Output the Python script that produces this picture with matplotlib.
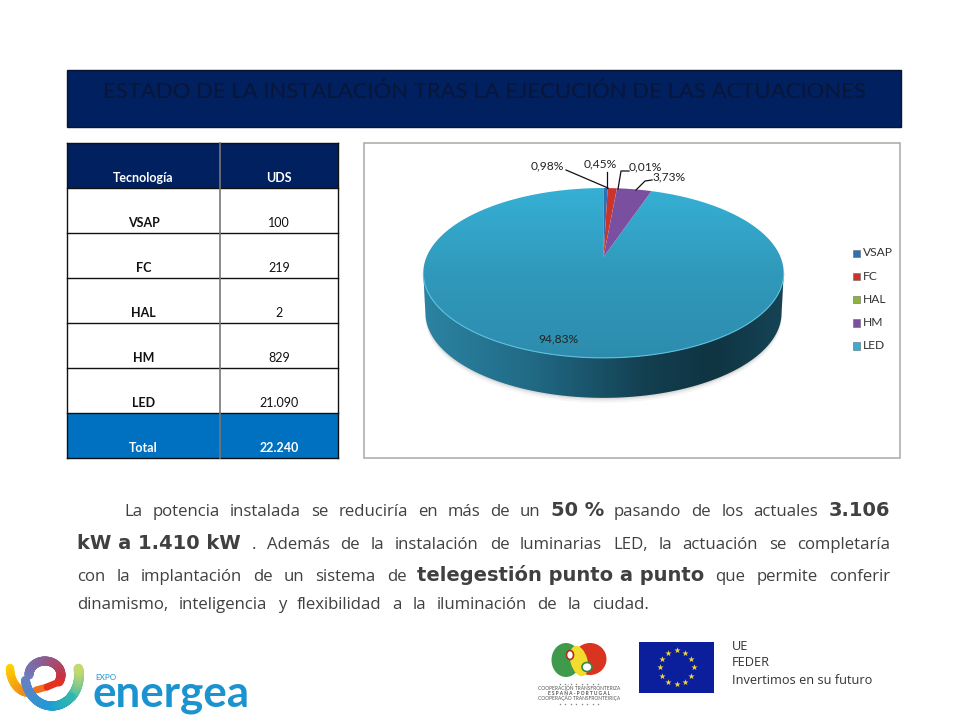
import numpy as np
import matplotlib
matplotlib.use('Agg')
import matplotlib.pyplot as plt
from matplotlib.colors import LinearSegmentedColormap, to_rgb
from matplotlib.patches import Rectangle, Polygon, Ellipse

# datos
tecnologias = ['VSAP', 'FC', 'HAL', 'HM', 'LED']
uds = [100, 219, 2, 829, 21090]
uds_txt = ['100', '219', '2', '829', '21.090']
total_txt = '22.240'
colores = ['#2f6fb5', '#c8352d', '#8db33b', '#7b4fa0', '#35aed2']
pct_txt = ['0,45%', '0,98%', '0,01%', '3,73%', '94,83%']

TITULO = 'ESTADO DE LA INSTALACIÓN TRAS LA EJECUCIÓN DE LAS ACTUACIONES'
parrafo = [
    (124, 890, 516, [('La potencia instalada se reduciría en más de un', 0), ('50 %', 1),
                     ('pasando de los actuales', 0), ('3.106', 1)]),
    (77, 890, 549, [('kW a 1.410 kW', 1), ('. Además de la instalación de luminarias LED, la actuación se completaría', 0)]),
    (77, 890, 581, [('con la implantación de un sistema de', 0), ('telegestión punto a punto', 1),
                    ('que permite conferir', 0)]),
    (77, 649, 609, [('dinamismo, inteligencia y flexibilidad a la iluminación de la ciudad.', 0)]),
]

plt.rcParams['font.family'] = ['Lato', 'DejaVu Sans']

fig = plt.figure(figsize=(9.6, 7.2), dpi=100)
ax = fig.add_axes([0, 0, 1, 1])
ax.axis('off')
XL, YL = (0, 960), (720, 0)
ax.set_xlim(XL)
ax.set_ylim(YL)


def px(s):
    return s * 0.72


def caja(x0, y0, x1, y1, **kw):
    ax.add_patch(Rectangle((x0, y0), x1 - x0, y1 - y0, **kw))


# titulo
caja(67, 70, 901, 127, fc='#002060', ec='#0a1430', lw=1)
ax.text(484, 91.5, TITULO, fontsize=px(22.2), color='#0a1638', ha='center', va='center')

# tabla
col_x = [67, 220, 338]
fila_y = 143
alto = 45
filas = [('Tecnología', 'UDS')] + list(zip(tecnologias, uds_txt)) + [('Total', total_txt)]
for i, (a, b) in enumerate(filas):
    y0 = fila_y + i * alto
    fondo = '#002060' if i == 0 else ('#0070c0' if i == len(filas) - 1 else 'white')
    color = 'white' if fondo != 'white' else '#111111'
    caja(col_x[0], y0, col_x[2], y0 + alto, fc=fondo, ec='none')
    ax.plot([col_x[0], col_x[2]], [y0 + alto, y0 + alto], color='#111111', lw=1)
    ax.text((col_x[0] + col_x[1]) / 2, y0 + alto - 10, a, fontsize=px(12.5), color=color,
            weight='bold', ha='center', va='center')
    ax.text((col_x[1] + col_x[2]) / 2, y0 + alto - 10, b, fontsize=px(12.5), color=color,
            weight='bold' if i in (0, len(filas) - 1) else 'normal', ha='center', va='center')
y_fin = fila_y + len(filas) * alto
ax.plot([col_x[0], col_x[2]], [fila_y, fila_y], color='#111111', lw=1)
ax.plot([col_x[0], col_x[0]], [fila_y, y_fin], color='#111111', lw=1)
ax.plot([col_x[2], col_x[2]], [fila_y, y_fin], color='#111111', lw=1)
ax.plot([col_x[1], col_x[1]], [fila_y, y_fin], color='#777777', lw=1.2)

# marco del grafico
caja(363.5, 142.5, 899.5, 457.5, fc='white', ec='#a8a8a8', lw=1.1)

# tarta: sale de ax.pie y se proyecta en perspectiva
CX, APEX, S = 603.5, 257.0, 177.0
R_, P_ = 0.188, -33.6
HONDO = 40


def proyecta(v):
    x, y = v[:, 0], v[:, 1]
    d = 1 + R_ * y
    return np.column_stack([CX + S * x / d, (APEX + P_ * y) / d])


aux = fig.add_axes([0, 0, 0.1, 0.1])
wedges, _ = aux.pie(uds, startangle=90, counterclock=False, radius=1)
polis = []
for w in wedges:
    ruta = w.get_patch_transform().transform_path(w.get_path())
    trozos_w = [curva(np.linspace(0, 1, 20)) for curva, cod in ruta.iter_bezier()]
    polis.append(proyecta(np.vstack(trozos_w)))
aux.remove()

t = np.linspace(0, 2 * np.pi, 361)
borde = proyecta(np.column_stack([np.cos(t), np.sin(t)]))
i_izq, i_der = borde[:, 0].argmin(), borde[:, 0].argmax()
frente = borde[min(i_izq, i_der):max(i_izq, i_der) + 1]
if frente[:, 1].mean() < APEX:
    frente = np.vstack([borde[max(i_izq, i_der):], borde[1:min(i_izq, i_der) + 1]])
fondo_l = frente.copy()
fondo_l[:, 0] = CX + (fondo_l[:, 0] - CX) * 0.988
fondo_l[:, 1] += HONDO

# sombra suave bajo la tarta
for k, a in zip([5, 3, 1.5], [0.05, 0.07, 0.1]):
    ax.add_patch(Polygon(np.vstack([frente, (fondo_l + [0, k])[::-1]]), fc='#555555', ec='none', alpha=a))

x0, x1 = borde[:, 0].min(), borde[:, 0].max()
cm_lado = LinearSegmentedColormap.from_list('lado', [(0, '#2b84a2'), (0.3, '#216a86'), (0.62, '#133f50'),
                                                     (0.8, '#0f3442'), (1, '#164455')])
img = ax.imshow(np.linspace(0, 1, 256)[None, :], extent=(x0, x1, 400, 270), cmap=cm_lado, aspect='auto', zorder=2)
lado = Polygon(np.vstack([frente, fondo_l[::-1]]), transform=ax.transData, fc='none', ec='none')
ax.add_patch(lado)
img.set_clip_path(lado)

cm_sup = LinearSegmentedColormap.from_list('sup', ['#36b0d5', '#3099bb', '#2d8cae'])
img2 = ax.imshow(np.linspace(0, 1, 256)[:, None], extent=(x0, x1, 360, 187), cmap=cm_sup, aspect='auto',
                 origin='upper', zorder=3)
tapa = Polygon(polis[4], transform=ax.transData, fc='none', ec='none')
ax.add_patch(tapa)
img2.set_clip_path(tapa)
ax.plot(frente[:, 0], frente[:, 1], color='#5cc0dd', lw=0.8, zorder=4)
for p, c in zip(polis[:4], colores[:4]):
    ax.add_patch(Polygon(p, fc=c, ec='none', zorder=4))
ax.set_xlim(XL)
ax.set_ylim(YL)

# etiquetas
etiquetas = [(547, 166), (600, 164), (645, 167), (669, 177), (558, 339)]
orden = [1, 0, 2, 3, 4]
for (ex, ey), j in zip(etiquetas, orden):
    ax.text(ex, ey, pct_txt[j], fontsize=px(12), color='#222222', ha='center', va='center', zorder=6)
guias = [[(566, 170), (608, 188)], [(607, 172), (607, 188)], [(629, 171), (621, 171), (618, 189)],
         [(652, 180), (645, 181), (636, 190)]]
for g in guias:
    g = np.array(g)
    ax.plot(g[:, 0], g[:, 1], color='#111111', lw=0.9, zorder=6)

# leyenda
for i, (n, c) in enumerate(zip(tecnologias, colores)):
    y = 253 + i * 23.2
    caja(852.5, y - 3.5, 860, y + 4, fc=c, ec='#666666', lw=0.4, zorder=5)
    ax.text(862.5, y, n, fontsize=px(12), color='#333333', ha='left', va='center', zorder=6)

# parrafo justificado
rend = fig.canvas.get_renderer()
F_NORMAL = dict(fontsize=px(16.8), color='#404040', family=['Open Sans', 'DejaVu Sans'])
F_NEGRITA = dict(fontsize=px(19.5), color='#404040', family=['DejaVu Sans'], weight='bold')
for xa, xb, yb, trozos in parrafo:
    palabras = []
    for texto, neg in trozos:
        # la negrita va entera, el resto palabra a palabra
        palabras += [(texto, 1)] if neg else [(w, 0) for w in texto.split(' ')]
    arts = []
    for w, neg in palabras:
        arts.append(ax.text(xa, yb, w, va='baseline', ha='left', **(F_NEGRITA if neg else F_NORMAL)))
    anchos = [a.get_window_extent(rend).width for a in arts]
    hueco = (xb - xa - sum(anchos)) / (len(arts) - 1)
    x = xa
    for a, an in zip(arts, anchos):
        a.set_x(x)
        x += an + hueco

# logo cooperacion
ax.add_patch(Ellipse((566, 660), 29, 34, fc='#3f9a4c', ec='none', zorder=2))
ax.add_patch(Ellipse((590, 659), 33, 32, fc='#d9341f', ec='none', zorder=2))
ax.add_patch(Ellipse((579, 661), 17, 31, angle=-15, fc='#f2dc2e', ec='none', zorder=3))
ax.add_patch(Ellipse((570, 655), 7, 9, fc='white', ec='#b03020', lw=1.2, zorder=4))
ax.add_patch(Ellipse((587, 667), 10, 9, fc='white', ec='#2f8a44', lw=1.2, zorder=4))
for y, s, neg in [(688.5, 'COOPERACIÓN TRANSFRONTERIZA', False), (693.5, 'E S P A Ñ A - P O R T U G A L', True),
                  (698.5, 'COOPERAÇÃO TRANSFRONTEIRIÇA', False)]:
    ax.text(579, y, s, fontsize=px(4.9), color='#555555', ha='center', va='center', weight='bold' if neg else 'normal')
for y in (683.5, 704):
    ax.scatter(np.linspace(560, 598, 8), np.full(8, y), s=1.2, color='#888888', linewidths=0)

# bandera UE
caja(639, 642, 714, 693, fc='#0b1f9c', ec='none')
ang = np.arange(12) * np.pi / 6
ax.scatter(676.7 + 17 * np.cos(ang), 667.3 + 17 * np.sin(ang), marker='*', s=22, color='#f4d63a', linewidths=0, zorder=3)

for y, s in [(646, 'UE'), (663, 'FEDER'), (681, 'Invertimos en su futuro')]:
    ax.text(732, y, s, fontsize=px(12.8), color='#333333', ha='left', va='center', family=['Open Sans', 'DejaVu Sans'])


# logo energea
def arco(cx, cy, rx, ry, a0, a1, c0, c1, lw, z=3, n=40):
    a = np.radians(np.linspace(a0, a1, n + 1))
    xs, ys = cx + rx * np.cos(a), cy + ry * np.sin(a)
    c0, c1 = to_rgb(c0), to_rgb(c1)
    for i in range(n):
        f = i / n
        ax.plot(xs[i:i + 2], ys[i:i + 2], color=[c0[k] + f * (c1[k] - c0[k]) for k in range(3)],
                lw=lw, solid_capstyle='round', zorder=z)


arco(30, 668, 20, 25, 180, 100, '#ffd400', '#f08a1c', 6)
arco(52, 675, 27, 31, 170, 90, '#6d7fc0', '#1e9bd7', 6.5, z=4)
arco(52, 675, 27, 31, 90, 45, '#1e9bd7', '#2fb7b0', 6.5, z=4)
arco(52, 675, 27, 31, 45, -12, '#2fb7b0', '#c6d96f', 7, z=3)
arco(45, 675, 16, 14, 180, 270, '#6d7fc0', '#8a5f95', 6.5, z=5)
arco(45, 675, 16, 14, 270, 390, '#8a5f95', '#d0303a', 6.5, z=5)
ax.plot([59, 47], [682, 687], color='#e8301e', lw=5, solid_capstyle='round', zorder=5)
ax.plot([47, 36], [687, 690], color='#f0701e', lw=5, solid_capstyle='round', zorder=2)

ax.text(92.5, 706, 'energea', fontsize=px(44), color='#1b93d1', weight='bold', ha='left', va='baseline',
        family=['Lato', 'DejaVu Sans'])
ax.text(95, 678, 'EXPO', fontsize=px(8), color='#1b93d1', ha='left', va='center')

fig.savefig('out.png', dpi=100)
